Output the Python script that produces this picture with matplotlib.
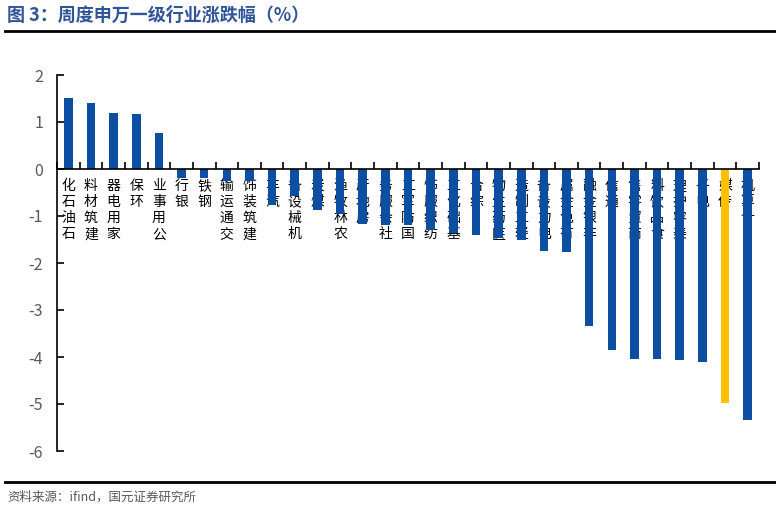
import numpy as np
import matplotlib.pyplot as plt
from matplotlib.lines import Line2D

plt.rcParams['font.family'] = ['Noto Sans CJK SC', 'DejaVu Sans']
plt.rcParams['axes.unicode_minus'] = False

# 申万一级行业周度涨跌幅（%）
industries = ['石油石化', '建筑材料', '家用电器', '环保', '公用事业', '银行', '钢铁',
              '交通运输', '建筑装饰', '汽车', '机械设备', '煤炭', '农林牧渔', '房地产',
              '社会服务', '国防军工', '纺织服饰', '基础化工', '综合', '医药生物',
              '轻工制造', '电力设备', '有色金属', '非银金融', '通信', '商贸零售',
              '食品饮料', '美容护理', '电子', '传媒', '计算机']
changes = [1.52, 1.40, 1.20, 1.17, 0.77, -0.20, -0.20,
           -0.25, -0.26, -0.76, -0.58, -0.88, -0.95, -1.17,
           -1.19, -1.20, -1.30, -1.36, -1.40, -1.46,
           -1.50, -1.74, -1.77, -3.33, -3.86, -4.04,
           -4.04, -4.07, -4.10, -4.97, -5.33]
highlight = '传媒'

blue = '#0b4ea2'
gold = '#ffc000'
grey = '#595959'

fig = plt.figure(figsize=(7.76, 5.12), dpi=100)
ax = fig.add_axes([57 / 776, 1 - 451 / 512, 702 / 776, (451 - 75) / 512])

x = np.arange(len(industries))
colors = [gold if n == highlight else blue for n in industries]
ax.bar(x, changes, width=0.38, color=colors, zorder=2)

ax.set_xlim(-0.5, len(industries) - 0.5)
ax.set_ylim(-6, 2)
ax.set_yticks(range(-6, 3))
ax.set_yticklabels([str(v) for v in range(-6, 3)], fontsize=11.5, color=grey)
ax.tick_params(axis='y', direction='in', length=5, width=1.2, pad=10)

# vertical stacked labels, read bottom to top
labels = ['\n'.join(reversed(n)) for n in industries]
ax.set_xticks(x)
ax.set_xticklabels(labels, fontsize=9.5, color='#666666', linespacing=1.2, va='top')
ax.tick_params(axis='x', which='major', length=0, pad=7)
ax.set_xticks(np.arange(-0.5, len(industries)), minor=True)
ax.tick_params(axis='x', which='minor', direction='in', length=5, width=1.2)

ax.spines['bottom'].set_position(('data', 0))
ax.spines['top'].set_visible(False)
ax.spines['right'].set_visible(False)
ax.spines['left'].set_linewidth(1.2)
ax.spines['bottom'].set_linewidth(1.2)

fig.text(7 / 776, 1 - 15 / 512, '图 3：周度申万一级行业涨跌幅（%）', fontsize=13,
         fontweight='bold', color='#2f5597', va='center', ha='left')
fig.add_artist(Line2D([5 / 776, 1], [1 - 31 / 512] * 2, color='black', lw=2))
fig.add_artist(Line2D([5 / 776, 1], [1 - 482 / 512] * 2, color='black', lw=2))
fig.text(7 / 776, 1 - 497 / 512, '资料来源：ifind，国元证券研究所', fontsize=9,
         color=grey, va='center', ha='left')

fig.savefig('out.png', dpi=100)
